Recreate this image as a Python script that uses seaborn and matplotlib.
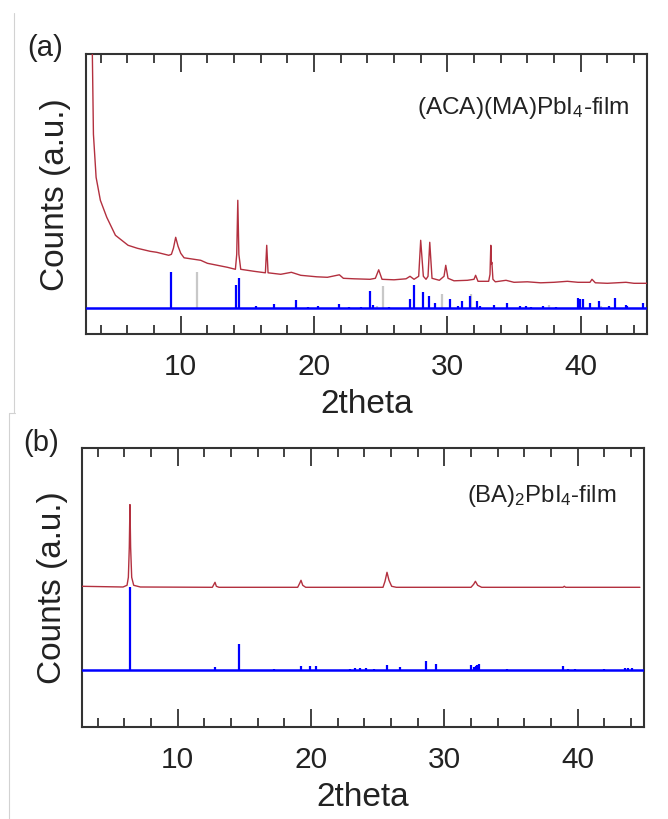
import numpy as np
import pandas as pd
import matplotlib
matplotlib.use("Agg")
import matplotlib.pyplot as plt
from matplotlib.ticker import MultipleLocator
from matplotlib.lines import Line2D
import seaborn as sns

# ---------------- data ----------------
# panel (a): measured film pattern (2theta, counts a.u.)
film_a_x = [3.30, 3.37, 3.45, 3.65, 3.97, 4.45, 5.10, 6.05, 6.75, 7.70, 8.20, 9.10, 9.30,
            9.45, 9.62, 9.80, 10.00, 10.25, 11.00, 11.50, 12.00, 12.75, 13.50, 14.10,
            14.20, 14.28, 14.36, 14.50, 15.50, 16.35, 16.45, 16.55, 17.50, 18.30, 19.00,
            20.20, 21.00, 21.90, 22.20, 23.00, 24.20, 24.60, 24.85, 25.10, 26.00, 26.90,
            27.20, 27.50, 27.85, 28.00, 28.20, 28.40, 28.55, 28.68, 28.85, 29.40, 29.75,
            29.88, 30.05, 30.50, 31.50, 32.00, 32.12, 32.30, 33.10, 33.20, 33.26, 33.30,
            33.34, 33.42, 33.60, 34.40, 35.00, 36.00, 37.00, 38.00, 39.00, 39.80, 40.70,
            40.85, 41.10, 42.00, 43.40, 44.00, 45.00]
film_a_y = [330, 279, 200, 157, 134, 117, 99, 89, 86, 83, 82, 79, 80,
            86, 97, 88, 81, 76.5, 75, 74, 71, 69, 67, 65,
            80, 134, 80, 65, 63, 61.5, 89, 61.5, 60, 62, 59,
            57.5, 57, 59.5, 56, 55.5, 55, 56, 64.5, 55, 54.5, 55.5,
            58, 55, 58, 94, 58, 55, 58, 92, 56, 54, 58,
            69, 56, 53.5, 54, 55, 59, 53, 53, 60, 89, 70,
            72, 55, 52.5, 54, 52, 52.5, 51.5, 52, 53, 52, 52,
            55, 51.5, 51, 52, 51, 51]

# panel (a): reference pattern sticks (blue) and impurity sticks (grey)
ref_a_pos = [9.25, 14.15, 14.38, 15.65, 16.98, 18.63, 19.55, 20.28, 21.88, 22.65, 23.53,
             24.22, 24.40, 25.65, 27.20, 27.53, 28.15, 28.65, 29.08, 30.20, 30.83, 31.13,
             31.70, 32.25, 32.45, 33.50, 34.45, 35.45, 35.88, 36.25, 37.20, 38.12, 39.83,
             39.95, 40.20, 40.71, 41.38, 42.15, 42.55, 43.41, 43.50, 44.70]
ref_a_int = [35.7, 23.3, 30, 1.7, 4, 7.7, 1, 1.7, 4, 0.7, 1,
             17.3, 3.3, 1, 9, 23.3, 15.7, 12.3, 5, 9, 1.7, 7.3,
             11.7, 6.7, 1.5, 3.3, 5, 1.7, 1.7, 1, 1.7, 1, 10,
             9, 9, 5, 7.3, 2.3, 10, 2.7, 2, 5]
grey_a_pos = [11.20, 24.70, 25.20, 29.58, 31.80, 37.65, 41.55]
grey_a_int = [36, 2.3, 21.7, 14, 14, 3.3, 2]
ref_a_base = 26.5

# panel (b): measured film pattern
film_b_x = [2.80, 5.90, 6.20, 6.30, 6.37, 6.42, 6.47, 6.55, 6.70, 7.20, 12.60, 12.72, 12.80,
            12.90, 13.10, 19.00, 19.15, 19.25, 19.38, 19.60, 25.40, 25.55, 25.70, 25.85,
            26.05, 26.40, 32.00, 32.20, 32.33, 32.50, 32.80, 38.90, 39.00, 39.10, 44.67]
film_b_y = [141, 140.3, 142, 150, 180, 222.7, 180, 150, 142, 140.3, 140, 143, 145,
            141, 140, 140, 144, 147, 142, 140, 140, 146, 155, 147,
            141, 140, 140, 143, 146, 142, 140, 140, 141, 140, 140]

# panel (b): reference pattern sticks
ref_b_pos = [6.40, 12.78, 14.58, 17.20, 19.22, 19.93, 20.40, 22.96, 23.30, 23.70, 24.10,
             24.70, 25.73, 26.68, 28.66, 29.38, 31.97, 32.20, 32.35, 32.48, 32.60, 34.70,
             38.88, 39.26, 39.80, 42.00, 43.57, 43.75, 44.05]
ref_b_int = [82.7, 3, 26, 1, 4, 3.7, 3.7, 1.3, 1.7, 2.3, 2.3,
             1.3, 5.5, 3.3, 9.3, 6.3, 5.3, 2.7, 4.3, 5, 5.7, 1.2,
             4.3, 1.4, 1.4, 1, 1.7, 1.7, 1.7]
ref_b_base = 57.3

labels_a = ("(a)", "(ACA)(MA)PbI$_4$-film")
labels_b = ("(b)", "(BA)$_2$PbI$_4$-film")
x_ticks = [10, 20, 30, 40]

# ---------------- styling ----------------
sns.set_theme(style="ticks")
plt.rcParams["font.family"] = ["Liberation Sans", "DejaVu Sans"]
plt.rcParams["mathtext.default"] = "regular"
TXT = "#222222"
SPINE = "#333333"
RED = "#b3303f"
BLUE = "#0000ff"
GREY = "#c8c8c8"

W, H = 668, 819
fig = plt.figure(figsize=(W / 100, H / 100), dpi=100)
axA = fig.add_axes([85.7 / W, 1 - 334.3 / H, (647.3 - 85.7) / W, 280 / H])
axB = fig.add_axes([81.7 / W, 1 - 727.3 / H, (644.3 - 81.7) / W, 279 / H])


def style_axis(ax, xlim, ylim, lab_x, lab_y):
    ax.set_xlim(*xlim)
    ax.set_ylim(*ylim)
    ax.set_xticks(x_ticks)
    ax.xaxis.set_minor_locator(MultipleLocator(2))
    ax.set_yticks([])
    ax.tick_params(axis="x", which="both", direction="in", top=True, bottom=True,
                   colors=SPINE, labelcolor=TXT, width=1.3)
    ax.tick_params(axis="x", which="major", length=12.7, labelsize=21.5, pad=13.3)
    ax.tick_params(axis="x", which="minor", length=6.3)
    for s in ax.spines.values():
        s.set_visible(True)
        s.set_color(SPINE)
        s.set_linewidth(1.5)
    ax.set_xlabel("2theta", fontsize=24, color=TXT)
    ax.set_ylabel("Counts (a.u.)", fontsize=24, color=TXT)
    ax.xaxis.set_label_coords(0.5, lab_x)
    ax.yaxis.set_label_coords(lab_y, 0.5)
    ax.set_facecolor("white")


# ---- panel (a)
xa = (2.87, 45.0)
axA.vlines(grey_a_pos, ref_a_base, np.array(grey_a_int) + ref_a_base, color=GREY, lw=1.6, zorder=2)
axA.vlines(ref_a_pos, ref_a_base, np.array(ref_a_int) + ref_a_base, color=BLUE, lw=1.6, zorder=3)
sns.lineplot(x=list(xa), y=[ref_a_base, ref_a_base], ax=axA, color=BLUE, linewidth=1.8, zorder=4)
sns.lineplot(x=film_a_x, y=film_a_y, ax=axA, color=RED, linewidth=1.0, sort=False,
             estimator=None, zorder=5)
style_axis(axA, xa, (0, 280), -0.196, -0.027)
axA.text(0.969, 0.786, labels_a[1], transform=axA.transAxes, ha="right", va="baseline",
         fontsize=17.6, color=TXT)

# ---- panel (b)
xb = (2.80, 45.0)
axB.vlines(ref_b_pos, ref_b_base, np.array(ref_b_int) + ref_b_base, color=BLUE, lw=1.6, zorder=3)
sns.lineplot(x=list(xb), y=[ref_b_base, ref_b_base], ax=axB, color=BLUE, linewidth=1.8, zorder=4)
sns.lineplot(x=film_b_x, y=film_b_y, ax=axB, color=RED, linewidth=1.0, sort=False,
             estimator=None, zorder=5)
style_axis(axB, xb, (0, 279), -0.196, -0.024)
axB.text(0.950, 0.8086, labels_b[1], transform=axB.transAxes, ha="right", va="baseline",
         fontsize=17.2, color=TXT)

# panel letters
fig.text(27 / W, 1 - 56 / H, labels_a[0], fontsize=21, color=TXT, va="baseline")
fig.text(23 / W, 1 - 451 / H, labels_b[0], fontsize=21, color=TXT, va="baseline")

# thin grey frame edges of the original composite
for xs, ys in [([14, 14], [13, 413]), ([9.3, 15], [413, 413]), ([9.3, 9.3], [413, 819])]:
    fig.add_artist(Line2D([x / W for x in xs], [1 - y / H for y in ys], color="#d2d2d2",
                          lw=0.8, transform=fig.transFigure))

fig.savefig("out.png", dpi=100, facecolor="white")
